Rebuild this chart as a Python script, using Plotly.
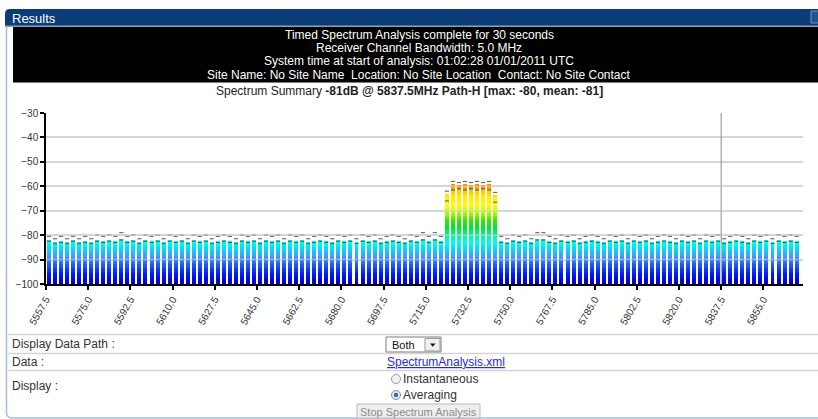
import plotly.graph_objects as go

# ---------------- data ----------------
freq_mhz = [
    5558.75, 5561.25, 5563.75, 5566.25, 5568.75, 5571.25, 5573.75, 5576.25, 5578.75, 5581.25,
    5583.75, 5586.25, 5588.75, 5591.25, 5593.75, 5596.25, 5598.75, 5601.25, 5603.75, 5606.25,
    5608.75, 5611.25, 5613.75, 5616.25, 5618.75, 5621.25, 5623.75, 5626.25, 5628.75, 5631.25,
    5633.75, 5636.25, 5638.75, 5641.25, 5643.75, 5646.25, 5648.75, 5651.25, 5653.75, 5656.25,
    5658.75, 5661.25, 5663.75, 5666.25, 5668.75, 5671.25, 5673.75, 5676.25, 5678.75, 5681.25,
    5683.75, 5686.25, 5688.75, 5691.25, 5693.75, 5696.25, 5698.75, 5701.25, 5703.75, 5706.25,
    5708.75, 5711.25, 5713.75, 5716.25, 5718.75, 5721.25, 5723.75, 5726.25, 5728.75, 5731.25,
    5733.75, 5736.25, 5738.75, 5741.25, 5743.75, 5746.25, 5748.75, 5751.25, 5753.75, 5756.25,
    5758.75, 5761.25, 5763.75, 5766.25, 5768.75, 5771.25, 5773.75, 5776.25, 5778.75, 5781.25,
    5783.75, 5786.25, 5788.75, 5791.25, 5793.75, 5796.25, 5798.75, 5801.25, 5803.75, 5806.25,
    5808.75, 5811.25, 5813.75, 5816.25, 5818.75, 5821.25, 5823.75, 5826.25, 5828.75, 5831.25,
    5833.75, 5836.25, 5838.75, 5841.25, 5843.75, 5846.25, 5848.75, 5851.25, 5853.75, 5856.25,
    5858.75, 5861.25, 5863.75, 5866.25, 5868.75,
]

level_db = [
    -82.0, -83.0, -82.5, -83.0, -82.0, -83.0, -82.5, -83.0, -82.0, -82.5,
    -82.0, -82.5, -81.5, -82.5, -82.0, -83.0, -82.0, -82.5, -82.0, -83.0,
    -82.0, -82.5, -82.0, -83.0, -82.0, -82.5, -82.0, -83.0, -82.5, -82.0,
    -82.5, -83.0, -82.0, -82.5, -82.0, -83.0, -82.0, -82.5, -82.0, -83.0,
    -82.0, -82.5, -82.0, -83.0, -82.5, -82.0, -82.5, -83.0, -82.0, -82.5,
    -82.0, -83.0, -82.0, -82.5, -82.0, -83.0, -82.5, -82.0, -82.5, -83.0,
    -82.0, -82.5, -81.5, -82.5, -81.5, -82.5,
    -63.0, -59.0, -59.5, -59.0, -59.5, -59.0, -59.5, -59.0, -63.5,
    -82.5, -83.0, -82.0, -82.5, -82.0, -83.0, -81.5, -81.5, -82.5, -83.0,
    -82.0, -82.5, -82.0, -83.0, -82.5, -82.0, -82.5, -83.0, -82.0, -82.5,
    -82.0, -83.0, -82.0, -82.5, -82.0, -83.0, -82.5, -82.0, -82.5, -83.0,
    -82.0, -82.5, -82.0, -83.0, -82.0, -82.5, -82.0, -83.0, -82.5, -82.0,
    -82.5, -83.0, -82.0, -82.5, -82.0, -83.0, -82.0, -82.5, -82.0, -82.5,
]

max_db = [
    -80.5, -81.5, -80.5, -81.5, -80.5, -81.5, -80.5, -81.5, -80.0, -80.5,
    -80.0, -80.5, -79.0, -80.5, -80.0, -81.5, -80.0, -80.5, -80.0, -81.5,
    -80.0, -80.5, -80.0, -81.5, -80.0, -80.5, -80.0, -81.5, -80.5, -80.0,
    -80.5, -81.5, -80.0, -80.5, -80.0, -81.5, -80.0, -80.5, -80.0, -81.5,
    -80.0, -80.5, -80.0, -81.5, -80.5, -80.0, -80.5, -81.5, -80.0, -80.5,
    -80.0, -81.5, -80.0, -80.5, -80.0, -81.5, -80.5, -80.0, -80.5, -81.5,
    -80.0, -80.5, -79.0, -80.5, -79.0, -80.5,
    -62.0, -58.0, -58.5, -58.0, -58.5, -58.0, -58.5, -58.0, -62.5,
    -80.5, -81.5, -80.0, -80.5, -80.0, -81.5, -79.0, -79.0, -80.5, -81.5,
    -80.0, -80.5, -80.0, -81.5, -80.5, -80.0, -80.5, -81.5, -80.0, -80.5,
    -80.0, -81.5, -80.0, -80.5, -80.0, -81.5, -80.5, -80.0, -80.5, -81.5,
    -80.0, -80.5, -80.0, -81.5, -80.0, -80.5, -80.0, -81.5, -80.5, -80.0,
    -80.5, -81.5, -80.0, -80.5, -80.0, -81.5, -80.0, -80.5, -80.0, -80.5,
]

mean_db = [
    -82.5, -83.5, -83.0, -83.5, -82.5, -83.5, -83.0, -83.5, -82.5, -83.0,
    -82.5, -83.0, -82.0, -83.0, -82.5, -83.5, -82.5, -83.0, -82.5, -83.5,
    -82.5, -83.0, -82.5, -83.5, -82.5, -83.0, -82.5, -83.5, -83.0, -82.5,
    -83.0, -83.5, -82.5, -83.0, -82.5, -83.5, -82.5, -83.0, -82.5, -83.5,
    -82.5, -83.0, -82.5, -83.5, -83.0, -82.5, -83.0, -83.5, -82.5, -83.0,
    -82.5, -83.5, -82.5, -83.0, -82.5, -83.5, -83.0, -82.5, -83.0, -83.5,
    -82.5, -83.0, -82.0, -83.0, -82.0, -83.0,
    -66.0, -61.5, -61.0, -61.5, -61.0, -61.5, -61.0, -61.5, -66.5,
    -83.0, -83.5, -82.5, -83.0, -82.5, -83.5, -82.0, -82.0, -83.0, -83.5,
    -82.5, -83.0, -82.5, -83.5, -83.0, -82.5, -83.0, -83.5, -82.5, -83.0,
    -82.5, -83.5, -82.5, -83.0, -82.5, -83.5, -83.0, -82.5, -83.0, -83.5,
    -82.5, -83.0, -82.5, -83.5, -82.5, -83.0, -82.5, -83.5, -83.0, -82.5,
    -83.0, -83.5, -82.5, -83.0, -82.5, -83.5, -82.5, -83.0, -82.5, -83.0,
]

tick_vals = [5557.5, 5575.0, 5592.5, 5610.0, 5627.5, 5645.0, 5662.5, 5680.0, 5697.5,
             5715.0, 5732.5, 5750.0, 5767.5, 5785.0, 5802.5, 5820.0, 5837.5, 5855.0]
tick_text = ["5557.5", "5575.0", "5592.5", "5610.0", "5627.5", "5645.0", "5662.5", "5680.0", "5697.5",
             "5715.0", "5732.5", "5750.0", "5767.5", "5785.0", "5802.5", "5820.0", "5837.5", "5855.0"]
y_ticks = [-100, -90, -80, -70, -60, -50, -40, -30]
marker_freq = 5837.5

header_lines = [
    "Timed Spectrum Analysis complete for 30 seconds",
    "Receiver Channel Bandwidth: 5.0 MHz",
    "System time at start of analysis: 01:02:28 01/01/2011 UTC",
    "Site Name: No Site Name  Location: No Site Location  Contact: No Site Contact",
]

# ---------------- style helpers ----------------
FONT = "Arial, Liberation Sans, sans-serif"
W_FIG, H_FIG = 818, 419
ML, MR, MT, MB = 46, 15, 113, 135
PW = W_FIG - ML - MR
PH = H_FIG - MT - MB


def xp(px):
    return (px - ML) / PW


def yp(py):
    return 1 - (py - MT) / PH


stops = [(-100, (0, 0, 200)), (-96, (0, 25, 255)), (-92, (35, 95, 255)), (-89, (70, 150, 255)),
         (-86, (0, 215, 255)), (-83, (0, 255, 230)), (-80, (0, 250, 150)), (-77, (0, 230, 40)),
         (-74, (60, 230, 0)), (-71, (170, 250, 0)), (-68, (255, 255, 0)), (-64, (255, 235, 0)),
         (-61, (255, 175, 0)), (-58, (255, 110, 0))]


def color_at(v):
    if v <= stops[0][0]:
        c = stops[0][1]
    elif v >= stops[-1][0]:
        c = stops[-1][1]
    else:
        for (a, ca), (b, cb) in zip(stops[:-1], stops[1:]):
            if a <= v <= b:
                t = (v - a) / (b - a)
                c = tuple(ca[k] + (cb[k] - ca[k]) * t for k in range(3))
                break
    return "rgb(%d,%d,%d)" % tuple(int(round(x)) for x in c)


fig = go.Figure()

# gradient bars: overlay of thin slices
step = 1.0
lv = -100.0
while lv < max(level_db):
    hs = []
    for v in level_db:
        h = min(max(v - lv, 0.0), step)
        hs.append(h if h > 0 else None)
    fig.add_trace(go.Bar(x=freq_mhz, y=hs, base=lv, width=1.65,
                         marker=dict(color=color_at(lv + step / 2), line=dict(width=0)),
                         hoverinfo="skip", showlegend=False))
    lv += step

# max / mean dashes
for series in (max_db, mean_db):
    fig.add_trace(go.Scatter(x=freq_mhz, y=series, mode="markers",
                             marker=dict(symbol="line-ew", size=3,
                                         line=dict(width=1, color="#555")),
                             hoverinfo="skip", showlegend=False))

shapes = []


def rect(x0, y0, x1, y1, fill, line="rgba(0,0,0,0)", lw=0, layer="above"):
    shapes.append(dict(type="rect", xref="paper", yref="paper",
                       x0=xp(x0), x1=xp(x1), y0=yp(y0), y1=yp(y1),
                       fillcolor=fill, line=dict(color=line, width=lw), layer=layer))


def hline(x0, x1, y, color, lw):
    shapes.append(dict(type="line", xref="paper", yref="paper",
                       x0=xp(x0), x1=xp(x1), y0=yp(y), y1=yp(y),
                       line=dict(color=color, width=lw), layer="above"))


def P(px, py):
    return "%.5f,%.5f" % (xp(px), yp(py))


# header bar with rounded top-left corner
shapes.append(dict(type="path", xref="paper", yref="paper",
                   path="M %s L %s Q %s %s L %s L %s Z" % (P(5, 26), P(5, 14), P(5, 9), P(10, 9), P(818, 9), P(818, 26)),
                   fillcolor="#0b3c78", line=dict(width=0), layer="above"))
hline(5, 818, 26.2, "#86a3c6", 1.5)
rect(811, 11, 819, 23, "#23538c", "#6f90b8", 1)
# panel border
shapes.append(dict(type="path", xref="paper", yref="paper",
                   path="M %s L %s Q %s %s L %s" % (P(6.5, 26), P(6.5, 412), P(6.5, 418), P(12, 418), P(818, 418)),
                   line=dict(color="#a9bdd6", width=1.5), layer="above"))
# black info box
rect(13, 27, 818, 82.5, "#000000")

# form rows
hline(8, 818, 334.5, "#d4d4d4", 1.5)
hline(8, 818, 353.5, "#d4d4d4", 1.5)
hline(8, 818, 370.5, "#d4d4d4", 1.5)
rect(386, 337, 441, 352, "#ffffff", "#7d7d7d", 1)
rect(425, 338.5, 440, 351, "#f0f0f0", "#9a9a9a", 1)
shapes.append(dict(type="path", xref="paper", yref="paper",
                   path="M %s L %s L %s Z" % (P(430, 343.5), P(435.5, 343.5), P(432.7, 346.8)),
                   fillcolor="#111", line=dict(width=0), layer="above"))
shapes.append(dict(type="circle", xref="paper", yref="paper", x0=xp(391.5), x1=xp(400.5),
                   y0=yp(374.5), y1=yp(383.5), fillcolor="#f3f3f3",
                   line=dict(color="#9a9a9a", width=1), layer="above"))
shapes.append(dict(type="circle", xref="paper", yref="paper", x0=xp(391.5), x1=xp(400.5),
                   y0=yp(390.5), y1=yp(399.5), fillcolor="#e8eef6",
                   line=dict(color="#8a8a8a", width=1), layer="above"))
shapes.append(dict(type="circle", xref="paper", yref="paper", x0=xp(393.7), x1=xp(398.3),
                   y0=yp(392.7), y1=yp(397.3), fillcolor="#2d6cc0",
                   line=dict(width=0), layer="above"))
rect(357, 404, 480, 418, "#efefef", "#b8b8b8", 1)

# chart overlays: marker line and gridlines crossing the bars
shapes.append(dict(type="line", xref="x", yref="paper", x0=marker_freq, x1=marker_freq, y0=0, y1=1,
                   line=dict(color="rgba(150,150,150,0.75)", width=1.5), layer="above"))
for gv in y_ticks[1:5]:
    shapes.append(dict(type="line", xref="paper", yref="y", x0=0, x1=1, y0=gv, y1=gv,
                       line=dict(color="rgba(215,215,215,0.55)", width=1.5), layer="above"))

ann = []


def text(px, py, s, size=12, color="#333", anchor="left"):
    ann.append(dict(xref="paper", yref="paper", x=xp(px), y=yp(py), text=s,
                    showarrow=False, xanchor=anchor, yanchor="middle",
                    font=dict(family=FONT, size=size, color=color)))


text(10, 18, "Results", 13, "#ffffff")
for i, s in enumerate(header_lines):
    text(419, 34.5 + i * 13.5, s, 12, "#ffffff", "center")
text(409, 90.5, "Spectrum Summary <b>-81dB @ 5837.5MHz Path-H [max: -80, mean: -81]</b>", 12, "#222", "center")
text(10, 344, "Display Data Path :", 12, "#333")
text(390, 344.5, "Both", 11, "#111")
text(10, 361.5, "Data :", 12, "#333")
text(385, 361.5, "<u>SpectrumAnalysis.xml</u>", 12, "#2a2ad6")
text(10, 386, "Display :", 12, "#333")
text(401, 379, "Instantaneous", 12, "#333")
text(401, 395, "Averaging", 12, "#333")
text(418.5, 411.5, "Stop Spectrum Analysis", 11, "#8a8a8a", "center")

fig.update_layout(
    width=W_FIG, height=H_FIG, autosize=False,
    margin=dict(l=ML, r=MR, t=MT, b=MB, pad=0),
    paper_bgcolor="white", plot_bgcolor="white",
    barmode="overlay", bargap=0,
    shapes=shapes, annotations=ann,
    font=dict(family=FONT, size=10, color="#333"),
    xaxis=dict(range=[5557.5, 5871.4], tickmode="array", tickvals=tick_vals, ticktext=tick_text,
               tickangle=-60, ticks="outside", ticklen=4, tickwidth=1.5, tickcolor="#000",
               showline=True, linecolor="#000", linewidth=1.5, showgrid=False, zeroline=False,
               tickfont=dict(family=FONT, size=10, color="#333")),
    yaxis=dict(range=[-100, -30], tickmode="array", tickvals=y_ticks,
               ticks="outside", ticklen=4, tickwidth=1.5, tickcolor="#000",
               showline=True, linecolor="#000", linewidth=1.5,
               showgrid=True, gridcolor="#d6d6d6", gridwidth=1.5, zeroline=False,
               tickfont=dict(family=FONT, size=10, color="#333")),
)

fig.write_html("out.html", config={"displayModeBar": False},
               post_script="document.body.style.margin='0';document.body.style.overflow='hidden';")
